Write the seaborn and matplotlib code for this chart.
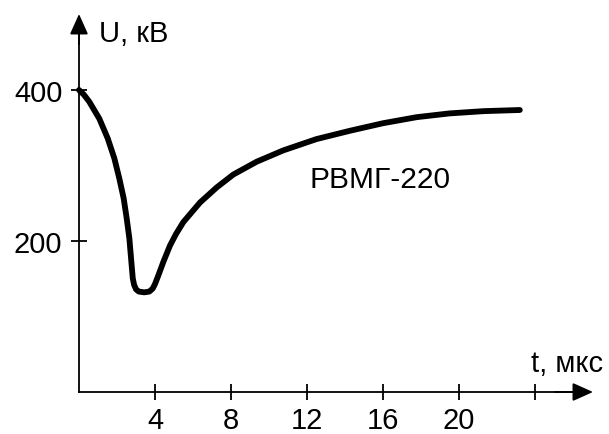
import matplotlib
matplotlib.use("Agg")
import matplotlib.pyplot as plt
import seaborn as sns
import pandas as pd
from matplotlib.patches import ArrowStyle

# Data
time_us = [0, 0.25, 0.54, 1.07, 1.51, 1.86, 2.12, 2.35, 2.51, 2.65, 2.74, 2.83,
           2.9, 3.0, 3.15, 3.44, 3.7, 3.88, 4.0, 4.17, 4.45, 4.79, 5.1, 5.49,
           6.37, 7.25, 8.12, 9.35, 10.75, 12.5, 14.26, 16.0, 17.77, 19.5, 21.3, 23.2]
voltage_kv = [400, 394, 384.5, 362, 336, 309.5, 283, 256.6, 230, 203.6, 177, 150.6,
              142, 136, 133, 132, 133, 137, 143, 154, 173, 194, 209, 225,
              251, 271, 288, 305, 320, 335, 346, 356, 364, 369, 372, 373.5]
x_ticks = [4, 8, 12, 16, 20, 24]
x_tick_labels = ["4", "8", "12", "16", "20", ""]
y_ticks = [200, 400]
y_tick_labels = ["200", "400"]
series_label = "РВМГ-220"
x_axis_label = "t, мкс"
y_axis_label = "U, кВ"

sns.set_style("white")
plt.rcParams["font.family"] = ["Liberation Sans", "DejaVu Sans"]

fig = plt.figure(figsize=(6.09, 4.35), dpi=100)
ax = fig.add_axes([0, 0, 1, 1])

df = pd.DataFrame({"t": time_us, "U": voltage_kv})
sns.lineplot(data=df, x="t", y="U", ax=ax, color="black", linewidth=4.2,
             sort=False, estimator=None)
for ln in ax.lines:
    ln.set_solid_capstyle("round")
    ln.set_solid_joinstyle("round")

# pixel-based limits: x=0 at 79px, 19 px/unit; y=0 at 42px from bottom, 0.755 px/unit
ax.set_xlim(-79 / 19, (609 - 79) / 19)
ax.set_ylim(-42 / 0.755, (435 - 42) / 0.755)

x_tip = (593 - 79) / 19
y_tip = (393 - 15) / 0.755

for side in ["top", "right"]:
    ax.spines[side].set_visible(False)
for side in ["left", "bottom"]:
    ax.spines[side].set_position(("data", 0))
    ax.spines[side].set_linewidth(1.3)
    ax.spines[side].set_color("black")
ax.spines["bottom"].set_bounds(0, x_tip - 0.5)
ax.spines["left"].set_bounds(0, y_tip - 10)

ax.set_xticks(x_ticks)
ax.set_xticklabels(x_tick_labels)
ax.set_yticks(y_ticks)
ax.set_yticklabels(y_tick_labels)
ax.tick_params(axis="both", which="major", bottom=True, left=True,
               direction="inout", length=11, width=1.3, color="black",
               labelsize=21, labelcolor="black")
ax.tick_params(axis="x", pad=4.5)
ax.tick_params(axis="y", pad=6.5)
ax.set_xlabel("")
ax.set_ylabel("")
ax.grid(False)

style = ArrowStyle("-|>", head_length=12.5, head_width=5.6)
ax.annotate("", xy=(x_tip, 0), xytext=(x_tip - 2, 0),
            arrowprops=dict(arrowstyle=style, mutation_scale=1, color="black",
                            lw=1.3, shrinkA=0, shrinkB=0))
ax.annotate("", xy=(0, y_tip), xytext=(0, y_tip - 40),
            arrowprops=dict(arrowstyle=style, mutation_scale=1, color="black",
                            lw=1.3, shrinkA=0, shrinkB=0))

ax.text((99 - 79) / 19, (393 - 42) / 0.755, y_axis_label, fontsize=21,
        ha="left", va="baseline", color="black")
ax.text((531 - 79) / 19, (393 - 372) / 0.755, x_axis_label, fontsize=21,
        ha="left", va="baseline", color="black")
ax.text((380 - 79) / 19, (393 - 180) / 0.755, series_label, fontsize=21.5,
        ha="center", va="center", color="black")

fig.savefig("out.png", dpi=100)
